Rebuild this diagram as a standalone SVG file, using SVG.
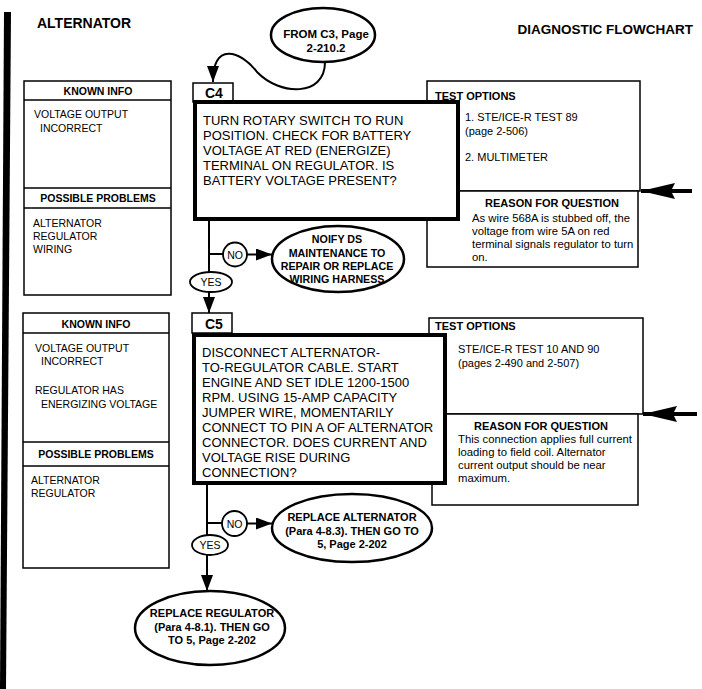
<svg xmlns="http://www.w3.org/2000/svg" width="702" height="689" viewBox="0 0 702 689">
<style>
.t{font-family:"Liberation Sans",Arial,Helvetica,sans-serif;fill:#000}
.b{font-weight:bold}
.box{fill:#fff;stroke:#000;stroke-width:1.5}
.thick{fill:#fff;stroke:#000;stroke-width:4}
.hl{stroke:#000;stroke-width:1.5}
.ln{fill:none;stroke:#000;stroke-width:2}
.ov{fill:#fff;stroke:#000;stroke-width:2.5}
.sm{fill:#fff;stroke:#000;stroke-width:1.8}
.m{font-size:13px}
.s{font-size:10.5px}
.r{font-size:11.3px}
.c{text-anchor:middle}
</style>
<defs>
<marker id="ah" markerUnits="userSpaceOnUse" markerWidth="16" markerHeight="12" refX="16" refY="6" orient="auto">
<path d="M0,0 L16,6 L0,12 z" fill="#000"/>
</marker>
<marker id="big" markerUnits="userSpaceOnUse" markerWidth="34" markerHeight="16" refX="34" refY="8" orient="auto">
<path d="M0,0 L34,8 L0,16 L4,8 z" fill="#000"/>
</marker>
</defs>
<rect width="702" height="689" fill="#fff"/>
<polygon points="4,12 11,12 6,689 0,689" fill="#000"/>
<text class="t b" x="37" y="28" font-size="14">ALTERNATOR</text>
<text class="t b" x="693" y="34" font-size="13.5" text-anchor="end">DIAGNOSTIC FLOWCHART</text>

<g id="from-c3">
<ellipse class="ov" cx="323" cy="35" rx="52" ry="27"/>
<text class="t b c" x="326" y="38" font-size="11.5">FROM C3, Page</text>
<text class="t b c" x="326" y="52" font-size="11.5">2-210.2</text>
</g>

<g id="known1">
<rect class="box" x="24" y="81" width="147" height="214"/>
<line class="hl" x1="24" y1="100" x2="171" y2="100"/>
<line class="hl" x1="24" y1="188" x2="171" y2="188"/>
<line class="hl" x1="24" y1="208" x2="171" y2="208"/>
<text class="t b s c" x="98" y="95">KNOWN INFO</text>
<text class="t s" x="34" y="118">VOLTAGE OUTPUT</text>
<text class="t s" x="40" y="132">INCORRECT</text>
<text class="t b s c" x="98" y="202">POSSIBLE PROBLEMS</text>
<text class="t s" x="33" y="227">ALTERNATOR</text>
<text class="t s" x="33" y="240">REGULATOR</text>
<text class="t s" x="33" y="253">WIRING</text>
</g>

<g id="test1">
<rect class="box" x="427" y="81" width="213" height="110"/>
<rect class="box" x="427" y="191" width="211" height="76"/>
<text class="t b" x="435" y="100" font-size="11">TEST OPTIONS</text>
<text class="t" x="465" y="121" font-size="11">1. STE/ICE-R TEST 89</text>
<text class="t" x="465" y="135" font-size="11">(page 2-506)</text>
<text class="t" x="465" y="161" font-size="11">2. MULTIMETER</text>
<text class="t b c" x="552" y="207" font-size="11">REASON FOR QUESTION</text>
<text class="t r" x="472" y="222">As wire 568A is stubbed off, the</text>
<text class="t r" x="472" y="235">voltage from wire 5A on red</text>
<text class="t r" x="472" y="248">terminal signals regulator to turn</text>
<text class="t r" x="472" y="261">on.</text>
</g>

<g id="c4">
<rect class="box" x="193" y="83" width="40" height="19"/>
<text class="t b" x="205" y="98" font-size="14">C4</text>
<rect class="thick" x="195" y="102" width="263" height="117"/>
<text class="t m" x="203" y="125">TURN ROTARY SWITCH TO RUN</text>
<text class="t m" x="203" y="140">POSITION. CHECK FOR BATTERY</text>
<text class="t m" x="203" y="155">VOLTAGE AT RED (ENERGIZE)</text>
<text class="t m" x="203" y="170">TERMINAL ON REGULATOR. IS</text>
<text class="t m" x="203" y="185">BATTERY VOLTAGE PRESENT?</text>
</g>

<g id="notify">
<ellipse class="ov" cx="338" cy="259" rx="66" ry="33"/>
<text class="t b c" x="337" y="243" font-size="10.7">NOIFY DS</text>
<text class="t b c" x="337" y="257" font-size="10.7">MAINTENANCE TO</text>
<text class="t b c" x="337" y="270" font-size="10.7">REPAIR OR REPLACE</text>
<text class="t b c" x="337" y="283" font-size="10.7">WIRING HARNESS</text>
</g>

<g id="known2">
<rect class="box" x="23" y="313" width="146" height="255"/>
<line class="hl" x1="23" y1="333" x2="169" y2="333"/>
<line class="hl" x1="23" y1="442" x2="169" y2="442"/>
<line class="hl" x1="23" y1="466" x2="169" y2="466"/>
<text class="t b s c" x="96" y="328">KNOWN INFO</text>
<text class="t s" x="35" y="352">VOLTAGE OUTPUT</text>
<text class="t s" x="41" y="365">INCORRECT</text>
<text class="t s" x="35" y="394">REGULATOR HAS</text>
<text class="t s" x="41" y="408">ENERGIZING VOLTAGE</text>
<text class="t b s c" x="96" y="458">POSSIBLE PROBLEMS</text>
<text class="t s" x="31" y="484">ALTERNATOR</text>
<text class="t s" x="31" y="497">REGULATOR</text>
</g>

<g id="test2">
<rect class="box" x="429" y="318" width="214" height="96"/>
<rect class="box" x="432" y="414" width="206" height="91"/>
<text class="t b" x="435" y="330" font-size="11">TEST OPTIONS</text>
<text class="t" x="458" y="353" font-size="11">STE/ICE-R TEST 10 AND 90</text>
<text class="t" x="458" y="367" font-size="11">(pages 2-490 and 2-507)</text>
<text class="t b c" x="541" y="430" font-size="11">REASON FOR QUESTION</text>
<text class="t r" x="458" y="443">This connection applies full current</text>
<text class="t r" x="458" y="456">loading to field coil. Alternator</text>
<text class="t r" x="458" y="469">current output should be near</text>
<text class="t r" x="458" y="482">maximum.</text>
</g>

<g id="c5">
<rect class="box" x="192" y="313" width="40" height="20"/>
<text class="t b" x="205" y="329" font-size="14">C5</text>
<rect class="thick" x="194" y="335" width="251" height="148"/>
<text class="t m" x="202" y="357">DISCONNECT ALTERNATOR-</text>
<text class="t m" x="202" y="372">TO-REGULATOR CABLE. START</text>
<text class="t m" x="202" y="387">ENGINE AND SET IDLE 1200-1500</text>
<text class="t m" x="202" y="402">RPM. USING 15-AMP CAPACITY</text>
<text class="t m" x="202" y="417">JUMPER WIRE, MOMENTARILY</text>
<text class="t m" x="202" y="432">CONNECT TO PIN A OF ALTERNATOR</text>
<text class="t m" x="202" y="447">CONNECTOR. DOES CURRENT AND</text>
<text class="t m" x="202" y="462">VOLTAGE RISE DURING</text>
<text class="t m" x="202" y="477">CONNECTION?</text>
</g>

<g id="replace-alt">
<ellipse class="ov" cx="352" cy="528" rx="80" ry="34"/>
<text class="t b c" x="352" y="521" font-size="11">REPLACE ALTERNATOR</text>
<text class="t b c" x="352" y="535" font-size="11">(Para 4-8.3). THEN GO TO</text>
<text class="t b c" x="352" y="548" font-size="11">5, Page 2-202</text>
</g>

<g id="replace-reg">
<ellipse class="ov" cx="210" cy="628" rx="75" ry="37"/>
<text class="t b c" x="212" y="617" font-size="11">REPLACE REGULATOR</text>
<text class="t b c" x="212" y="631" font-size="11">(Para 4-8.1). THEN GO</text>
<text class="t b c" x="212" y="644" font-size="11">TO 5, Page 2-202</text>
</g>

<g id="connectors">
<path class="ln" d="M325,62 C325,97 280,96 257,72 C240,50 213,42 213,82" marker-end="url(#ah)"/>
<path class="ln" d="M209,221 V272"/>
<path class="ln" d="M209,254 H223"/>
<circle class="sm" cx="235" cy="254.5" r="12"/>
<text class="t s c" x="235" y="258.5">NO</text>
<path class="ln" d="M247,254.5 H272" marker-end="url(#ah)"/>
<ellipse class="sm" cx="211" cy="282" rx="21" ry="10"/>
<text class="t s c" x="211" y="286">YES</text>
<path class="ln" d="M209,292 V313" marker-end="url(#ah)"/>
<path class="ln" d="M207,485 V535"/>
<path class="ln" d="M207,523 H222"/>
<circle class="sm" cx="234.5" cy="523.5" r="12.5"/>
<text class="t s c" x="234.5" y="527.5">NO</text>
<path class="ln" d="M247,523.5 H272" marker-end="url(#ah)"/>
<ellipse class="sm" cx="210" cy="545" rx="18" ry="10"/>
<text class="t s c" x="210" y="549">YES</text>
<path class="ln" d="M207,555 V591" marker-end="url(#ah)"/>
<path d="M692,191 H641" stroke="#000" stroke-width="4" marker-end="url(#big)"/>
<path d="M697,414 H643" stroke="#000" stroke-width="4" marker-end="url(#big)"/>
</g>
</svg>
